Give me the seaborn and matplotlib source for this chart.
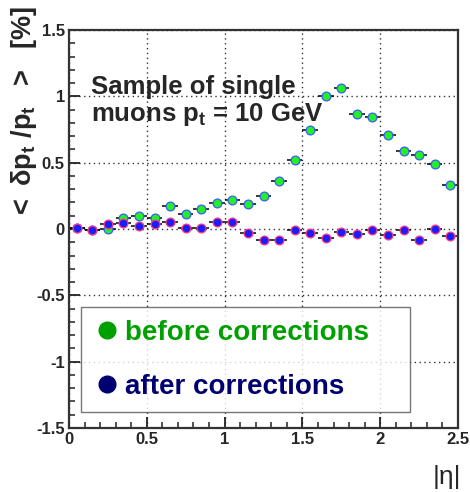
import matplotlib
matplotlib.use("Agg")
import matplotlib.pyplot as plt
from matplotlib.lines import Line2D
from matplotlib.ticker import MultipleLocator
import seaborn as sns
import pandas as pd

# |eta| bin centres (bin width 0.1)
eta = [0.05, 0.15, 0.25, 0.35, 0.45, 0.55, 0.65, 0.75, 0.85, 0.95,
       1.05, 1.15, 1.25, 1.35, 1.45, 1.55, 1.65, 1.75, 1.85, 1.95,
       2.05, 2.15, 2.25, 2.35, 2.45]
# mean relative pt bias [%]
before = [0.01, -0.01, 0.00, 0.08, 0.10, 0.08, 0.17, 0.11, 0.15, 0.195,
          0.22, 0.19, 0.25, 0.36, 0.52, 0.75, 1.00, 1.06, 0.865, 0.845,
          0.705, 0.59, 0.56, 0.49, 0.33]
after = [0.01, -0.005, 0.04, 0.045, 0.02, 0.04, 0.05, 0.005, 0.01, 0.05,
         0.05, -0.03, -0.085, -0.08, -0.01, -0.03, -0.07, -0.02, -0.04, -0.01,
         -0.045, -0.01, -0.08, 0.00, -0.05]
bin_half_width = 0.05
legend_labels = ["before corrections", "after corrections"]
x_ticks = [0, 0.5, 1, 1.5, 2, 2.5]
y_ticks = [-1.5, -1, -0.5, 0, 0.5, 1, 1.5]

sns.set_style("white")
plt.rcParams["font.family"] = ["Liberation Sans", "DejaVu Sans"]
plt.rcParams["mathtext.fontset"] = "custom"
plt.rcParams["mathtext.rm"] = "Liberation Sans:bold"
plt.rcParams["mathtext.it"] = "Liberation Sans:bold"
plt.rcParams["mathtext.bf"] = "Liberation Sans:bold"

df = pd.DataFrame({"eta": eta, "before": before, "after": after})

fig = plt.figure(figsize=(4.7, 4.92), dpi=100)
ax = fig.add_axes([69 / 470, 1 - 428 / 492, 389 / 470, 398 / 492])

# horizontal bin-width bars
ax.errorbar(df["eta"], df["before"], xerr=bin_half_width, yerr=0.012, fmt="none",
            ecolor="black", elinewidth=1.1, zorder=2)
ax.errorbar(df["eta"], df["after"], xerr=bin_half_width, yerr=0.012, fmt="none",
            ecolor="black", elinewidth=1.1, zorder=2)

sns.scatterplot(data=df, x="eta", y="before", ax=ax, color="#22f022",
                edgecolor="#3a5cff", linewidth=0.9, s=40, zorder=3)
sns.scatterplot(data=df, x="eta", y="after", ax=ax, color="#1c1cff",
                edgecolor="#ff3a7a", linewidth=0.9, s=40, zorder=4)

ax.set_xlim(0, 2.5)
ax.set_ylim(-1.5, 1.5)
ax.set_xticks(x_ticks)
ax.set_yticks(y_ticks)
ax.set_xticklabels(["0", "0.5", "1", "1.5", "2", "2.5"])
ax.set_yticklabels(["-1.5", "-1", "-0.5", "0", "0.5", "1", "1.5"])
ax.xaxis.set_minor_locator(MultipleLocator(0.1))
ax.yaxis.set_minor_locator(MultipleLocator(0.1))
ax.tick_params(axis="both", which="both", direction="in", top=False, right=False,
               left=True, bottom=True, color="#222222")
ax.tick_params(axis="both", which="major", length=8, width=1.3, labelsize=12, pad=3)
ax.tick_params(axis="both", which="minor", length=4.5, width=1.1)
for lab in ax.get_xticklabels() + ax.get_yticklabels():
    lab.set_fontweight("bold")
ax.set_xlabel("")
ax.set_ylabel("")

ax.grid(True, which="major", linestyle=(0, (1, 2.5)), color="#333333", linewidth=1.0)
ax.set_axisbelow(True)
for side in ["left", "bottom", "top", "right"]:
    ax.spines[side].set_visible(True)
    ax.spines[side].set_color("#333333")
    ax.spines[side].set_linewidth(1.6)

ax.text(91 / 470, 1 - 75 / 492, "Sample of single\nmuons $p_t$ = 10 GeV",
        transform=fig.transFigure, ha="left", va="top", fontsize=18.5,
        fontweight="bold", linespacing=1.1, zorder=5)

handles = [
    Line2D([], [], linestyle="none", marker="o", markersize=12,
           markerfacecolor="#00a000", markeredgecolor="#00a000"),
    Line2D([], [], linestyle="none", marker="o", markersize=12,
           markerfacecolor="#000070", markeredgecolor="#000070"),
]
leg = ax.legend(handles, legend_labels, loc="lower left",
                bbox_to_anchor=(12 / 389, 16 / 398, 329 / 389, 0.27),
                mode="expand", borderaxespad=0, frameon=True, fancybox=False,
                edgecolor="#555555", borderpad=0.45, labelspacing=1.0,
                handlelength=1.0, handletextpad=0.12,
                labelcolor=["#00a000", "#000070"],
                prop={"weight": "bold", "size": 20})
leg.get_frame().set_linewidth(1.0)
leg.set_zorder(6)

fig.text(24 / 470, 1 - 112 / 492, r"$<\ \delta p_t\ /p_t\ \ >\ \ [\%]$",
         rotation=90, ha="center", va="center", fontsize=19.5)
fig.text(447 / 470, 1 - 477 / 492, "|η|", ha="center", va="center", fontsize=19)

fig.savefig("out.png", dpi=100)
